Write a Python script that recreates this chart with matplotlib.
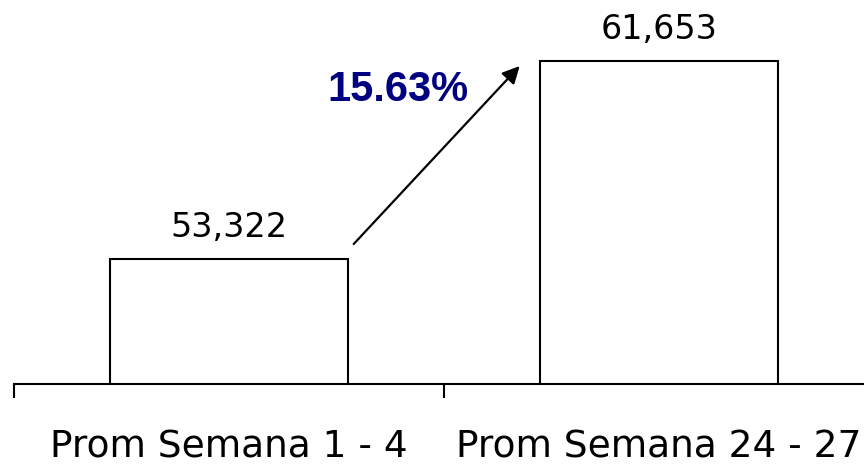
import matplotlib.pyplot as plt

categories = ['Prom Semana 1 - 4', 'Prom Semana 24 - 27']
values = [53322, 61653]
value_labels = ['53,322', '61,653']
growth_label = '15.63%'

fig = plt.figure(figsize=(8.64, 4.65), dpi=100)
ax = fig.add_axes([14 / 864, 81 / 465, 860 / 864, 384 / 465])

x = range(len(categories))
ax.bar(x, values, width=0.555, color='white', edgecolor='black', linewidth=1.5)

for i, (v, lab) in enumerate(zip(values, value_labels)):
    ax.annotate(lab, (i, v), xytext=(0, 10.5), textcoords='offset points',
                ha='center', va='bottom', fontsize=24, family='DejaVu Sans')

# growth arrow between the bars
ax.annotate('', xy=(0.676, 61440), xytext=(0.29, 53950),
            arrowprops=dict(arrowstyle='-|>', color='black', lw=1.6,
                            mutation_scale=26, shrinkA=0, shrinkB=0))
ax.text(0.392, 60430, growth_label, ha='center', va='center',
        fontsize=30, fontweight='bold', color='#000080', family='Liberation Sans')

ax.set_xlim(-0.5, 1.5)
ax.set_ylim(48060, 48060 + 384 * 42.08)

ax.set_xticks(list(x))
ax.set_xticklabels(categories, fontsize=27, family='DejaVu Sans')
ax.set_xticks([-0.5, 0.5, 1.5], minor=True)
ax.tick_params(axis='x', which='major', length=0, pad=33)
ax.tick_params(axis='x', which='minor', length=10, width=1.5, direction='out')
ax.set_yticks([])

for s in ['top', 'right', 'left']:
    ax.spines[s].set_visible(False)
ax.spines['bottom'].set_linewidth(1.5)

fig.savefig('out.png', dpi=100)
